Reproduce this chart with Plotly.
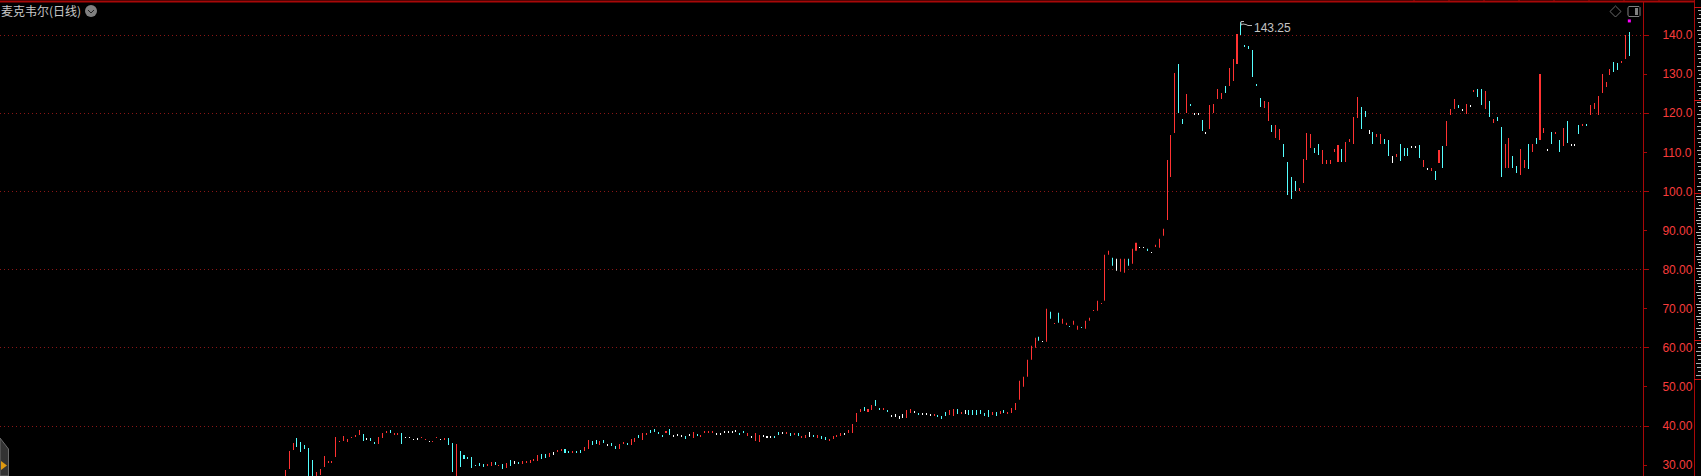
"""
Daily candle chart, dark trading terminal look
"""
import plotly.graph_objects as go

# candle bodies, oldest first. kind: r = up, c = down, w = flat
body_low = [
    26.5, 29.00, 33.86, 34.63, 33.35, 34.11, 26.5, 26.5, 26.5, 27.47,
    29.51, 30.79, 30.79, 32.07, 35.91, 36.16, 36.16, 36.93, 37.44, 37.70,
    36.16, 36.67, 36.16, 35.65, 35.39, 36.93, 38.21, 38.21, 37.95, 37.70,
    35.39, 36.93, 36.93, 36.42, 36.67, 36.93, 36.42, 35.91, 35.91, 36.93,
    36.42, 36.67, 35.14, 28.23, 26.5, 29.51, 31.56, 31.81, 29.26, 29.77,
    30.02, 29.51, 30.02, 29.77, 30.02, 29.77,
    28.99, 29.25, 29.76, 30.27, 30.53, 30.27, 30.78, 30.78, 31.29, 31.04,
    31.55, 31.81, 32.06, 32.83, 33.60, 33.85, 33.08, 33.08, 33.08, 33.08,
    33.08, 33.60, 34.11, 35.13, 35.39, 35.13, 35.90, 35.13, 34.88, 34.11,
    34.11, 35.39, 35.39, 35.13, 35.90, 36.92, 36.41, 37.94, 38.46, 38.46,
    38.20, 37.43, 38.46, 37.69, 37.43, 37.69, 37.43, 36.92, 37.69, 36.92,
    37.69, 37.43, 38.46, 38.20, 38.46, 37.94, 37.94, 38.46, 38.46, 38.46,
    38.71, 37.94, 38.20, 37.43, 37.18, 36.15, 35.90, 37.18, 37.18, 37.18,
    37.18, 37.69, 38.20, 38.20, 37.43, 37.94, 37.43, 37.18, 36.92, 37.18,
    37.18, 36.92, 36.67, 36.67, 36.41, 36.92, 37.43, 37.69, 37.94, 38.20,
    38.20, 41.01, 43.57, 43.83, 43.83, 44.08, 45.11, 44.34, 44.08, 43.83,
    42.55, 42.29, 42.04, 42.04, 42.04, 43.32, 43.57, 43.06, 43.06, 42.80,
    42.80, 42.80, 42.55, 41.78, 42.55, 42.80, 42.55, 43.06, 43.06, 43.06,
    42.80, 42.80, 42.80, 43.06, 42.55, 42.29, 42.80, 42.55, 43.06, 43.32,
    43.32, 43.32, 44.08,
    46.70, 50.02, 52.58, 56.93, 60.00, 61.79, 61.53, 61.53, 67.42, 66.14,
    66.39, 66.14, 65.88, 65.37, 65.88, 64.60, 65.11, 64.86, 66.90, 69.46,
    69.46, 71.25, 72.02, 83.79, 80.97, 79.69, 79.44, 79.18, 80.97, 81.48,
    84.81, 85.58, 85.58, 84.81, 84.30, 85.83, 85.58, 88.65,
    92.67, 103.67, 114.93, 120.04, 117.23, 120.04, 122.09, 119.79, 119.79, 115.44,
    114.93, 115.95, 120.04, 123.63, 123.63, 125.16, 126.95, 128.23, 132.58, 140.00,
    137.18, 136.42, 129.25, 126.95, 121.58, 121.32, 118.00, 115.18, 113.65, 113.14,
    108.79, 99.07, 98.05, 100.09, 100.09, 102.14, 108.02, 111.09, 109.81, 109.30,
    107.00, 107.00, 107.00, 110.07, 107.51, 107.51, 107.51, 112.63, 112.11, 118.77,
    115.95, 119.02, 114.67, 112.11, 114.16, 112.11, 112.11, 109.05, 107.25, 109.05,
    107.77, 109.05, 109.05, 111.35, 111.35, 108.53,
    106.23, 105.72, 105.21, 102.91, 107.25, 105.97, 111.60, 119.53, 121.07, 121.58,
    120.81, 119.79, 121.84, 125.67, 124.14, 122.09, 121.07, 119.02, 117.49, 118.00,
    103.67, 105.97, 105.97, 105.97, 104.70, 104.19, 105.97, 105.72, 110.07, 112.11,
    113.14, 114.93, 110.58, 112.11, 114.93, 110.07, 111.60, 112.37, 111.86, 111.86,
    114.67, 116.98, 116.98, 119.53, 121.07, 119.53, 125.16, 126.70, 129.77, 130.53,
    131.04, 132.83, 133.86, 134.63,
]
body_high = [
    28.74, 33.60, 35.65, 36.93, 35.91, 35.14, 34.37, 31.30, 28.23, 29.00,
    32.32, 31.05, 31.05, 37.19, 36.16, 37.44, 36.67, 37.19, 37.70, 38.98,
    37.95, 36.93, 36.93, 35.91, 37.19, 38.21, 38.72, 38.98, 38.21, 38.21,
    38.21, 37.19, 37.19, 36.67, 36.93, 37.19, 36.67, 36.16, 36.16, 37.19,
    36.67, 36.93, 36.93, 35.65, 35.39, 33.60, 32.58, 32.07, 32.07, 30.02,
    30.53, 30.28, 30.28, 30.79, 30.79, 30.02,
    30.27, 30.53, 31.29, 31.04, 30.78, 31.04, 31.04, 31.29, 31.55, 32.57,
    32.83, 32.83, 33.08, 33.34, 33.85, 34.11, 34.11, 33.60, 33.60, 33.60,
    33.85, 34.62, 36.41, 36.15, 36.41, 36.15, 36.41, 35.39, 35.64, 34.88,
    35.39, 35.90, 35.64, 36.67, 36.92, 37.69, 38.20, 38.20, 38.97, 39.22,
    38.46, 37.69, 38.71, 39.22, 37.69, 37.94, 37.69, 37.43, 37.94, 38.46,
    37.94, 37.69, 38.71, 38.71, 38.71, 38.20, 38.20, 38.71, 38.71, 38.71,
    38.97, 38.20, 38.71, 38.20, 37.43, 38.20, 37.69, 37.69, 37.43, 37.43,
    37.43, 38.46, 38.46, 38.46, 38.20, 38.20, 38.20, 37.43, 37.69, 38.46,
    37.69, 37.69, 37.43, 37.18, 36.67, 37.43, 37.69, 38.20, 38.20, 38.97,
    40.50, 43.32, 44.34, 44.85, 44.34, 45.36, 46.64, 44.60, 44.60, 44.08,
    42.80, 43.06, 42.55, 43.06, 44.08, 44.34, 43.83, 43.32, 43.32, 43.32,
    43.06, 43.06, 42.80, 42.55, 43.57, 44.08, 44.34, 44.34, 43.57, 44.08,
    44.08, 44.08, 44.08, 44.08, 43.32, 44.08, 43.57, 43.57, 43.83, 44.08,
    43.57, 44.60, 45.87,
    51.56, 52.58, 56.93, 60.51, 62.56, 62.81, 61.79, 69.97, 69.21, 66.39,
    68.95, 67.42, 66.39, 65.63, 66.90, 65.63, 65.37, 66.90, 67.67, 69.72,
    72.02, 71.51, 83.79, 84.81, 83.02, 82.76, 82.76, 82.76, 82.76, 85.32,
    86.86, 85.83, 85.83, 85.32, 84.55, 86.34, 87.88, 90.44,
    108.02, 114.42, 130.28, 132.58, 118.51, 124.90, 122.35, 120.04, 120.04, 118.25,
    115.18, 122.09, 122.35, 126.18, 125.16, 126.95, 131.56, 133.86, 140.25, 143.25,
    137.44, 137.18, 136.16, 127.46, 123.88, 123.11, 122.86, 116.98, 116.98, 115.95,
    112.11, 107.51, 103.67, 102.65, 100.86, 108.28, 114.93, 114.67, 111.09, 112.11,
    110.58, 108.02, 108.02, 110.84, 111.86, 110.84, 112.63, 113.39, 119.02, 124.14,
    121.58, 120.56, 115.70, 115.18, 114.67, 114.67, 113.39, 113.14, 109.05, 109.56,
    112.11, 111.09, 111.09, 111.60, 111.60, 111.86,
    108.02, 105.97, 105.97, 105.21, 110.58, 111.60, 118.00, 121.07, 123.63, 122.09,
    121.07, 122.35, 122.09, 125.93, 126.18, 126.18, 125.67, 123.11, 118.51, 119.02,
    116.46, 112.11, 113.65, 109.05, 106.49, 110.84, 108.02, 112.11, 112.11, 113.65,
    130.02, 116.21, 110.84, 115.18, 115.18, 113.14, 116.21, 118.00, 112.11, 112.11,
    116.98, 117.23, 117.23, 122.09, 122.60, 124.39, 130.02, 127.97, 131.30, 133.09,
    132.83, 133.35, 140.00, 140.76,
]
body_kind = (
    "rrrcccccrr" "rrrrrrrrrr" "cwccrrrcrr" "cwwwwrrwrr" "wrccrccccc" "ccrrcr"
    "crcwcrrrrr" "ccrwrrccrc" "crrccrcwcc" "rrcrrcrrcc" "ccrcwwwcwr"
    "crrrrwwwww" "wccrwrrwww" "ccwrcrcrrw" "crccrrrrwr" "rrrcrrccrc"
    "wwwwrrwcww" "wrcccrrcrw" "ccccccrcrc" "rrr"
    "rrrrrcwrcr" "crrcrrcrrr" "rrrrcwrrcr" "rwwcwrrr"
    "rrrccrcwwc" "wrrrrcrrrc" "cccccrrcrr" "ccccrrrrcc" "rrrrrcrrrr"
    "ccwcrrccwr" "cccwwc"
    "rwrcrcrrrc" "wrwrccrcrc" "crrccrrcrc" "rrwcrcrcww" "crcrrrrrrc" "crrc"
)
assert len(body_low) == len(body_high) == len(body_kind)

peak_value = 143.25
signal_value = 143.6
tick_values = [30, 40, 50, 60, 70, 80, 90, 100, 110, 120, 130, 140]
tick_labels = ["30.00", "40.00", "50.00", "60.00", "70.00", "80.00", "90.00",
               "100.0", "110.0", "120.0", "130.0", "140.0"]
title_text = "麦克韦尔(日线)"

WIDTH, HEIGHT = 1701, 476
PLOT_RIGHT, PLOT_TOP = 1643, 2
RED_DARK = "#a80808"
RED_TEXT = "#f83c3c"
GRAY = "#808080"
COLORS = {"r": "#ff3232", "c": "#54ffff", "w": "#ffffff"}


def px(x):
    return x / PLOT_RIGHT


def py(y):
    return 1 - (y - PLOT_TOP) / (HEIGHT - PLOT_TOP)


def hline(x0, x1, y, color, width=1):
    return dict(type="line", xref="paper", yref="paper", x0=px(x0), x1=px(x1), y0=py(y), y1=py(y),
                line=dict(color=color, width=width))


def vline(x, y0, y1, color, width=1):
    return dict(type="line", xref="paper", yref="paper", x0=px(x), x1=px(x), y0=py(y0), y1=py(y1),
                line=dict(color=color, width=width))


def poly(points, closed=False):
    path = "M " + " L ".join(f"{px(x):.5f},{py(y):.5f}" for x, y in points)
    return path + (" Z" if closed else "")


def shape_path(points, color=None, fill=None, closed=False, width=1):
    return dict(type="path", xref="paper", yref="paper", path=poly(points, closed),
                line=dict(color=color or "rgba(0,0,0,0)", width=width),
                fillcolor=fill or "rgba(0,0,0,0)")


n = len(body_low)
first_px, last_px = 285.33, 1629.33
step = (last_px - first_px) / (n - 1)
x_range = [-first_px / step, (PLOT_RIGHT - first_px) / step]
# 140 sits at y=35 and 20 units take 78 px
y_range = [140 - (HEIGHT - 35) / 3.91, 140 + (35 - PLOT_TOP) / 3.91]

fig = go.Figure()
for kind, color in COLORS.items():
    idx = [i for i in range(n) if body_kind[i] == kind]
    fig.add_trace(go.Bar(
        x=idx,
        base=[body_low[i] for i in idx],
        # one pixel bodies: keep them thin so the bar rounding gives 1 px, not 2
        y=[body_high[i] - body_low[i] if body_high[i] - body_low[i] > 0.3 else 0.02 for i in idx],
        width=0.01,
        marker=dict(color=color, line=dict(width=0)),
        showlegend=False,
    ))
fig.add_trace(go.Scatter(
    x=[n - 1], y=[signal_value], mode="markers", yaxis="y2", showlegend=False,
    marker=dict(color="#ff00ff", size=3, symbol="square", line=dict(width=0)),
))

shapes = [
    hline(0, 1694, 1.5, RED_DARK, 2),
    vline(1694.5, 0, HEIGHT, RED_DARK),
]
for tx in range(1414, 1694, 35):
    shapes.append(vline(tx, 0, 1, RED_DARK))
for sy in [7, 100, 193, 340, 379]:
    shapes.append(hline(1694, 1701, sy + 0.5, "#c81414"))

# clipped ruler text in the strip at the far right
for sy in range(10, 193, 4):
    shapes.append(hline(1697 + sy % 3, 1701, sy + 0.5, "#b4b4b4"))
for sy in range(196, 340, 3):
    shapes.append(hline(1696 + (sy * 7) % 4, 1699 + (sy * 5) % 3, sy + 0.5, "#c0c0c0"))
for sy in range(343, 378, 4):
    shapes.append(hline(1696 + sy % 3, 1701, sy + 0.5, "#b0b0b0"))

# title chevron
shapes.append(dict(type="circle", xref="paper", yref="paper", x0=px(85), x1=px(97), y0=py(17), y1=py(5),
                   fillcolor=GRAY, line=dict(width=0)))
shapes.append(shape_path([(88, 10), (91, 13), (94, 10)], color="#202020"))
# diamond and panel buttons
shapes.append(shape_path([(1615.5, 6), (1621, 11.5), (1615.5, 17), (1610, 11.5)], color="#6a6a6a", closed=True))
shapes.append(shape_path([(1629, 6.5), (1639, 6.5), (1640, 7.5), (1640, 15.5), (1639, 16.5), (1629, 16.5),
                          (1628, 15.5), (1628, 7.5)], color=GRAY, closed=True))
shapes.append(dict(type="rect", xref="paper", yref="paper", x0=px(1635), x1=px(1638), y0=py(15), y1=py(8),
                   fillcolor=GRAY, line=dict(width=0)))
# peak flag
shapes.append(shape_path([(1244, 21.5), (1241, 21.5), (1241, 25), (1243, 24), (1246, 24.5), (1248, 25.5), (1252, 25.5)],
                         color="#b8b8b8"))
# collapse handle, bottom left
shapes.append(shape_path([(0, 438), (8.5, 449), (8.5, 476), (0, 476)], color="#6c6c6c", fill="#333333", closed=True))
shapes.append(shape_path([(1, 461), (7, 465.5), (1, 470)], fill="#e09a10", closed=True))

annotations = [
    dict(text=title_text, xref="paper", yref="paper", x=px(-1), y=py(11), xanchor="left", yanchor="middle",
         showarrow=False, font=dict(family="Noto Sans CJK SC", size=12, color="#c8c8c8")),
    dict(text=f"{peak_value:.2f}", xref="paper", yref="paper", x=px(1252), y=py(28), xanchor="left", yanchor="middle",
         showarrow=False, font=dict(family="Liberation Sans", size=12, color="#c4c4c4")),
]

fig.update_layout(
    width=WIDTH,
    height=HEIGHT,
    margin=dict(l=0, r=WIDTH - PLOT_RIGHT, t=PLOT_TOP, b=0, pad=0),
    paper_bgcolor="#000000",
    plot_bgcolor="#000000",
    barmode="overlay",
    showlegend=False,
    hovermode=False,
    xaxis=dict(range=x_range, visible=False),
    yaxis=dict(
        side="right", range=y_range, showgrid=False, zeroline=False,
        showline=True, linecolor=RED_DARK, linewidth=1,
        tickmode="array", tickvals=tick_values, ticktext=tick_labels,
        ticks="outside", ticklen=3, tickwidth=1, tickcolor=RED_DARK,
        ticklabelstandoff=13,
        tickfont=dict(family="Liberation Sans", size=12, color=RED_TEXT),
    ),
    yaxis2=dict(
        side="right", overlaying="y", anchor="x", range=y_range, zeroline=False,
        tick0=0, dtick=20, ticks="outside", ticklen=5, tickwidth=1, tickcolor=RED_DARK,
        showticklabels=False, showline=False,
        showgrid=True, gridcolor="#8a1616", gridwidth=1, griddash="1px,3px",
    ),
    shapes=shapes,
    annotations=annotations,
)

fig.write_html("out.html", config=dict(displayModeBar=False),
               post_script="document.body.style.margin='0';")
